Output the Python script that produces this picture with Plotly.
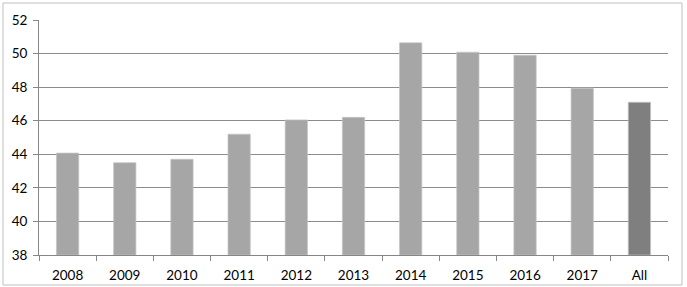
import plotly.graph_objects as go

categories = ["2008", "2009", "2010", "2011", "2012", "2013", "2014", "2015", "2016", "2017", "All"]
values = [44.07, 43.5, 43.7, 45.2, 46.05, 46.2, 50.64, 50.08, 49.9, 47.94, 47.1]
colors = ["#a6a6a6"] * 10 + ["#7f7f7f"]
y_base = 38

fig = go.Figure()
fig.add_trace(go.Bar(
    x=categories, y=[v - y_base for v in values], base=y_base,
    marker=dict(color=colors, line=dict(color="#c4c4c4", width=0.7)),
    width=0.39,
))

W, H = 687, 287
ml, mr, mt, mb = 39, 19, 20, 32
pw, ph = W - ml - mr, H - mt - mb

def px_x(x):
    return (x - ml) / pw

def px_y(y):
    return (H - mb - y) / ph

fig.update_layout(
    width=W, height=H,
    margin=dict(l=ml, r=mr, t=mt, b=mb),
    paper_bgcolor="white", plot_bgcolor="white",
    showlegend=False,
    font=dict(family="Lato", size=13.5, color="#000000"),
    xaxis=dict(
        type="category", range=[-0.5, 10.5], automargin=False,
        showline=True, linecolor="#868686", linewidth=1,
        ticks="outside", tickson="boundaries", ticklen=5, tickcolor="#868686",
        showgrid=False, ticklabelstandoff=8,
    ),
    yaxis=dict(
        range=[38, 52], dtick=2, tick0=38, automargin=False,
        showline=True, linecolor="#868686", linewidth=1,
        ticks="outside", ticklen=5, tickcolor="#868686",
        showgrid=True, gridcolor="#8c8c8c", gridwidth=1,
        zeroline=False, ticklabelstandoff=3,
    ),
    shapes=[dict(
        type="rect", xref="paper", yref="paper",
        x0=px_x(3), x1=px_x(682), y0=px_y(285), y1=px_y(3),
        line=dict(color="#bfbfbf", width=1), fillcolor="rgba(0,0,0,0)", layer="below",
    )],
)

fig.write_html("out.html")
